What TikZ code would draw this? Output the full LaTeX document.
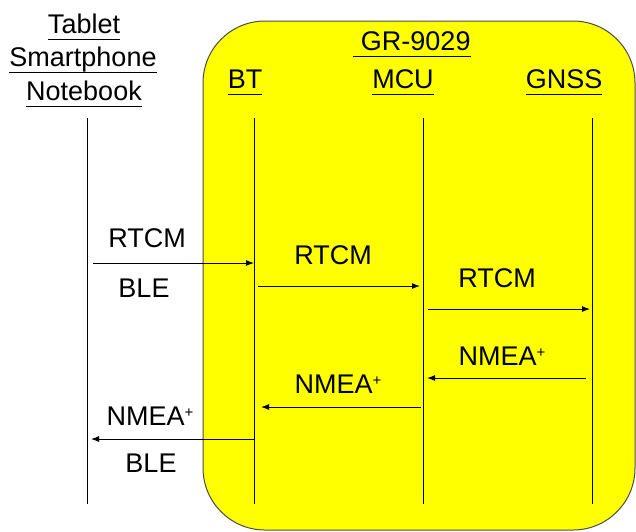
\documentclass[tikz,border=0pt]{standalone}
\usepackage{fontspec}
\setmainfont{Liberation Sans}
\usetikzlibrary{arrows.meta}

\definecolor{jaune}{RGB}{255,255,0}

% souligne un titre a distance fixe de la ligne de base
\newcommand{\ulabel}[1]{\setbox0=\hbox{#1}\rlap{\copy0}\rule[-7pt]{\wd0}{1.4pt}}
% petit plus en exposant
\newcommand{\plus}{\raisebox{8pt}{\fontsize{15}{15}\selectfont+}}

\tikzset{
  lbl/.style={anchor=base, inner sep=0pt, font=\fontsize{27}{32}\selectfont},
  life/.style={line width=1pt},
  msg/.style={line width=1pt, -{Latex[length=8pt,width=6pt]}},
}

\begin{document}
\begin{tikzpicture}[x=1pt,y=-1pt]
\useasboundingbox (0,0) rectangle (636,531);

% Boite du module (fond jaune)
\draw[fill=jaune, draw=black!70, line width=1pt, rounded corners=62pt] (203,21) rectangle (635,530);

% Titres
\node[lbl] (tablet) at (84,33) {\ulabel{Tablet}};
\node[lbl] (smart) at (83,66) {\ulabel{Smartphone}};
\node[lbl] (note) at (84,100) {\ulabel{Notebook}};
\node[lbl] (gr) at (412,50) {\ulabel{\ GR-9029}};
\node[lbl] (bt) at (245,88) {\ulabel{BT}};
\node[lbl] (mcu) at (403,88) {\ulabel{MCU}};
\node[lbl] (gnss) at (564,88) {\ulabel{GNSS}};

% Lignes de vie
\foreach \n/\x in {tab/87, bt/254, mcu/423, gnss/592} {
  \coordinate (\n-a) at (\x,118);
  \coordinate (\n-b) at (\x,504);
  \draw[life] (\n-a) -- (\n-b);
}

% Extremites des messages
\coordinate (m1s) at (93,263);  \coordinate (m1e) at (254,263);
\coordinate (m2s) at (258,286); \coordinate (m2e) at (420,286);
\coordinate (m3s) at (428,309); \coordinate (m3e) at (590,309);
\coordinate (m4s) at (586,378); \coordinate (m4e) at (427,378);
\coordinate (m5s) at (421,407); \coordinate (m5e) at (261,407);
\coordinate (m6s) at (254,439); \coordinate (m6e) at (91,439);

% Messages
\draw[msg] (m1s) -- (m1e); % RTCM vers BT
\draw[msg] (m2s) -- (m2e);
\draw[msg] (m3s) -- (m3e); % RTCM vers GNSS
\draw[msg] (m4s) -- (m4e); % NMEA vers MCU
\draw[msg] (m5s) -- (m5e);
\draw[msg] (m6s) -- (m6e);

% Textes des messages
\node[lbl] (rtcm1) at (147,247) {RTCM};
\node[lbl] (ble1) at (144,297) {BLE};
\node[lbl] (rtcm2) at (333,264) {RTCM};
\node[lbl] (rtcm3) at (497,287) {RTCM};
\node[lbl] (nmea1) at (502,365) {NMEA\plus};
\node[lbl] (nmea2) at (338,393) {NMEA\plus};
\node[lbl] (nmea3) at (150,425) {NMEA\plus};
\node[lbl] (ble2) at (151,472) {BLE};

\end{tikzpicture}
\end{document}
